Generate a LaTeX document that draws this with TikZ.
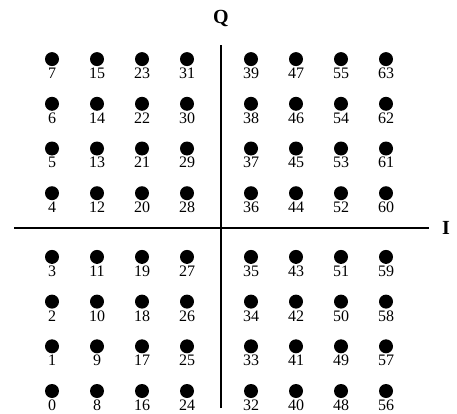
\documentclass[tikz,border=0pt]{standalone}
\usepackage{fontspec}
\setmainfont{Liberation Serif}
\usetikzlibrary{positioning}
\tikzset{
  symbol/.style={circle,fill=black,minimum size=10.5pt,inner sep=0pt},
  axis/.style={line width=1.5pt,draw=black},
  axislabel/.style={font=\fontsize{15}{17}\selectfont\bfseries,inner sep=0pt},
  bitlabel/.style={font=\fontsize{12}{14}\selectfont,inner sep=0pt}
}
\begin{document}
\begin{tikzpicture}[x=0.75pt,y=-0.75pt]
  \useasboundingbox (0,0) rectangle (457,414);
  % axes
  \coordinate (qtop) at (221,45);
  \coordinate (qbot) at (221,408);
  \coordinate (ileft) at (14,228);
  \coordinate (iright) at (429,228);
  \draw[axis] (qbot) -- (qtop);
  \draw[axis] (ileft) -- (iright);
  \node[axislabel] (q) at (221,18) {Q};
  \node[axislabel] (i) at (446,228) {I};
  % constellation points
  \foreach \col in {0,...,7}
    \foreach \row in {0,...,7}{
      \pgfmathtruncatemacro{\num}{8*\col+\row}
      \pgfmathsetmacro{\px}{52+45*\col+(\col>3)*19}
      \pgfmathsetmacro{\py}{391-44.7*\row-(\row>3)*19}
      \node[symbol] (s\num) at (\px,\py) {};
      \node[bitlabel,below=1pt of s\num] (n\num) {\num};
    }
\end{tikzpicture}
\end{document}
